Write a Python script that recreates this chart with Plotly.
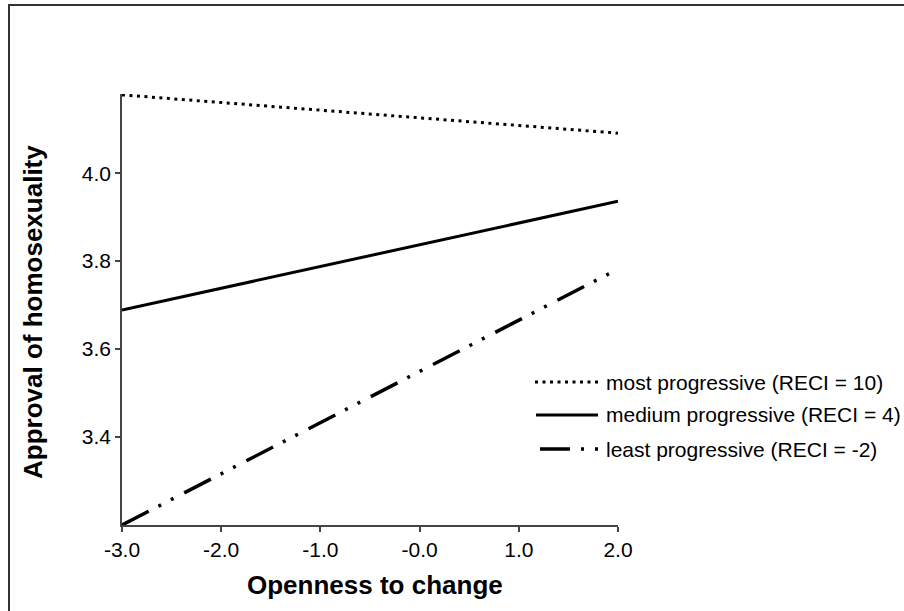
import plotly.graph_objects as go

# ---- data ----
openness = [-3.0, 2.0]
most_progressive = [4.178, 4.091]
medium_progressive = [3.689, 3.936]
least_progressive = [3.200, 3.782]

x_tickvals = [-3, -2, -1, 0, 1, 2]
x_ticktext = ["-3.0", "-2.0", "-1.0", "-0.0", "1.0", "2.0"]
y_tickvals = [3.4, 3.6, 3.8, 4.0]
y_ticktext = ["3.4", "3.6", "3.8", "4.0"]

series_names = [
    "most progressive (RECI = 10)",
    "medium progressive (RECI = 4)",
    "least progressive (RECI = -2)",
]

# ---- layout geometry (pixels) ----
W, H = 904, 611
L, R, T, B = 122, 618, 94, 525
FONT = "Liberation Sans, Arial, sans-serif"

def px(xp):
    return (xp - L) / (R - L)

def py(yp):
    return (B - yp) / (B - T)

styles = [
    dict(color="black", width=3, dash="3px,4.5px"),
    dict(color="black", width=3, dash="solid"),
    dict(color="black", width=3.5, dash="30px,11px,3px,11px,3px,12px"),
]

fig = go.Figure()
for name, ys, st in zip(series_names,
                        [most_progressive, medium_progressive, least_progressive],
                        styles):
    fig.add_trace(go.Scatter(x=openness, y=ys, mode="lines", name=name,
                             line=st, showlegend=False, cliponaxis=False))

shapes = []
annotations = []
# outer frame (left and top edges)
shapes.append(dict(type="line", xref="paper", yref="paper",
                   x0=px(9), x1=px(9), y0=py(4), y1=py(620),
                   line=dict(color="#333333", width=2)))
shapes.append(dict(type="line", xref="paper", yref="paper",
                   x0=px(8), x1=px(910), y0=py(5), y1=py(5),
                   line=dict(color="#333333", width=2)))

# manual legend
leg_rows = [382, 415, 449]
leg_x0 = [535, 536, 540]
for name, st, yrow, x0 in zip(series_names, styles, leg_rows, leg_x0):
    shapes.append(dict(type="line", xref="paper", yref="paper",
                       x0=px(x0), x1=px(598), y0=py(yrow), y1=py(yrow),
                       line=st))
    annotations.append(dict(xref="paper", yref="paper", x=px(604), y=py(yrow),
                            text=name, showarrow=False, xanchor="left",
                            yanchor="middle",
                            font=dict(family=FONT, size=21, color="black")))

# axis titles
annotations.append(dict(xref="paper", yref="paper", x=px(33), y=py(312),
                        text="<b>Approval of homosexuality</b>", textangle=-90,
                        showarrow=False, xanchor="center", yanchor="middle",
                        font=dict(family=FONT, size=26, color="black")))
annotations.append(dict(xref="paper", yref="paper", x=px(375), y=py(585),
                        text="<b>Openness to change</b>",
                        showarrow=False, xanchor="center", yanchor="middle",
                        font=dict(family=FONT, size=26, color="black")))

fig.update_layout(
    width=W, height=H,
    margin=dict(l=L, r=W - R, t=T, b=H - B, pad=0),
    paper_bgcolor="white", plot_bgcolor="white",
    shapes=shapes, annotations=annotations,
    xaxis=dict(range=[-3, 2], tickvals=x_tickvals, ticktext=x_ticktext,
               showgrid=False, zeroline=False, showline=True,
               linecolor="#444444", linewidth=1.5, ticks="outside",
               ticklen=5, tickcolor="#444444", tickwidth=1.5,
               tickfont=dict(family=FONT, size=21, color="black")),
    yaxis=dict(range=[3.2, 4.18], tickvals=y_tickvals, ticktext=y_ticktext,
               showgrid=False, zeroline=False, showline=True,
               linecolor="#444444", linewidth=1.5, ticks="outside",
               ticklen=5, tickcolor="#444444", tickwidth=1.5,
               tickfont=dict(family=FONT, size=21, color="black")),
)

fig.write_html("out.html", config={"displayModeBar": False})
